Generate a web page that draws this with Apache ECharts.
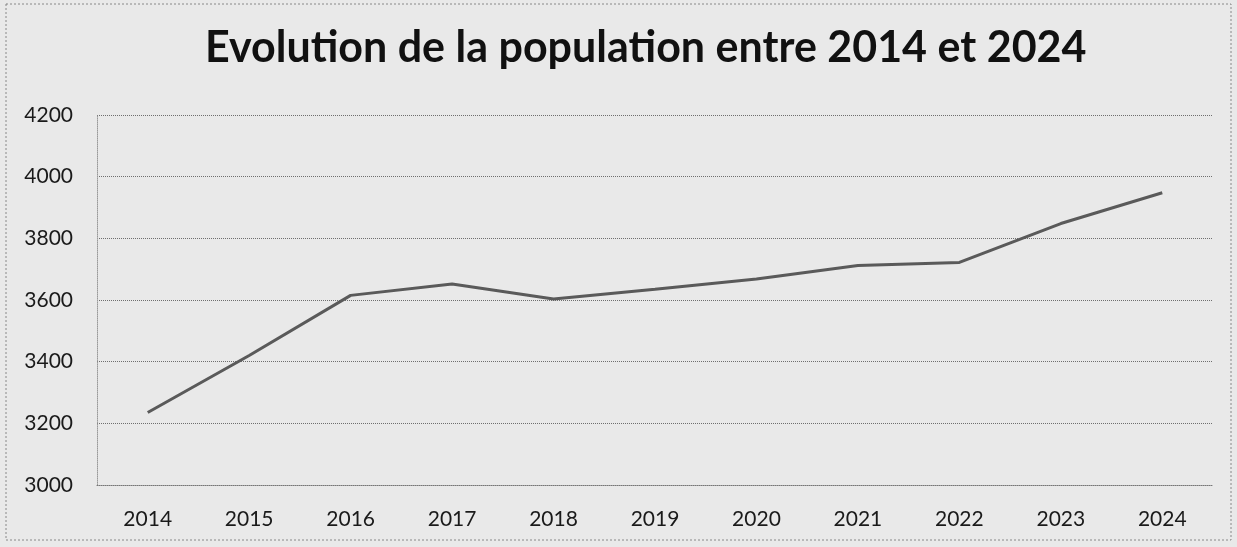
<!DOCTYPE html>
<html>
<head>
<meta charset="utf-8">
<script src="https://cdn.jsdelivr.net/npm/echarts@6/dist/echarts.min.js"></script>
<style>
  html, body { margin: 0; padding: 0; background: #e9e9e9; }
  #chart { width: 1237px; height: 547px; }
</style>
</head>
<body>
<div id="chart"></div>
<script>
// données
var years = ['2014', '2015', '2016', '2017', '2018', '2019', '2020', '2021', '2022', '2023', '2024']
var population = [3235, 3420, 3615, 3652, 3603, 3635, 3668, 3712, 3722, 3848, 3948]
var yTicks = [3000, 3200, 3400, 3600, 3800, 4000, 4200]

var myChart = echarts.init(document.getElementById('chart'))

var option = {
  backgroundColor: '#e9e9e9',
  animation: false,
  title: {
    text: 'Evolution de la population entre 2014 et 2024',
    left: 200,
    top: 22,
    textStyle: {
      fontFamily: 'Lato',
      fontWeight: 'bold',
      fontSize: 43,
      color: '#111'
    }
  },
  grid: {
    left: 97,
    right: 24,
    top: 115,
    bottom: 62
  },
  xAxis: {
    type: 'category',
    data: years,
    boundaryGap: true,
    axisLine: { show: true, lineStyle: { color: '#777', width: 1, type: 'dotted' } },
    axisTick: { show: false },
    axisLabel: {
      fontFamily: 'Lato',
      fontSize: 21,
      color: '#1a1a1a',
      margin: 24
    }
  },
  yAxis: {
    type: 'value',
    min: yTicks[0],
    max: yTicks[yTicks.length - 1],
    interval: 200,
    axisLine: { show: true, lineStyle: { color: '#999', width: 1, type: 'dotted' } },
    axisTick: { show: false },
    axisLabel: {
      fontFamily: 'Lato',
      fontSize: 21,
      color: '#1a1a1a',
      margin: 24,
      formatter: function (v) { return String(v) }
    },
    splitLine: { lineStyle: { color: '#6e6e6e', width: 1, type: 'dotted' } }
  },
  series: [
    {
      name: 'Population',
      type: 'line',
      data: population,
      showSymbol: false,
      lineStyle: { color: '#5a5a5a', width: 3 }
    }
  ],
  graphic: [
    {
      type: 'rect',
      shape: { x: 6, y: 4, width: 1225, height: 536 },
      style: { fill: 'none', stroke: '#888', lineWidth: 1, lineDash: [2, 2] }
    }
  ]
}

myChart.setOption(option)
</script>
</body>
</html>
